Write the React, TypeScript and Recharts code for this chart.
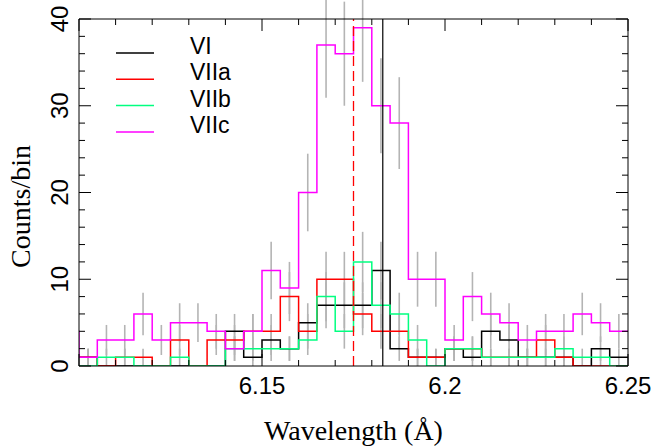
import React from "react";
import {
  ComposedChart,
  Line,
  Scatter,
  ErrorBar,
  XAxis,
  YAxis,
  ReferenceLine,
  Legend,
} from "recharts";

// bin edges (first one lies left of the plot and is clipped away)
const binEdges = [
  6.095, 6.1, 6.105, 6.11, 6.115, 6.12, 6.125, 6.13, 6.135, 6.14, 6.145, 6.15,
  6.155, 6.16, 6.165, 6.17, 6.175, 6.18, 6.185, 6.19, 6.195, 6.2, 6.205, 6.21,
  6.215, 6.22, 6.225, 6.23, 6.235, 6.24, 6.245, 6.25,
];

const seriesNames = ["VI", "VIIa", "VIIb", "VIIc"];
const seriesColors = ["#000000", "#ff0000", "#00ff80", "#ff00ff"];

const countsVI = [1, 0, 0, 0, 0, 0, 0, 0, 4, 1, 3, 2, 5, 7, 7, 7, 11, 2, 1, 1, 2, 1, 4, 3, 1, 1, 1, 0, 2, 1];
const countsVIIa = [1, 0, 1, 1, 0, 3, 0, 3, 3, 4, 4, 8, 4, 10, 10, 6, 4, 4, 1, 1, 2, 2, 1, 1, 1, 3, 1, 0, 0, 0];
const countsVIIb = [0, 1, 1, 0, 0, 1, 0, 0, 2, 2, 2, 2, 3, 8, 4, 12, 7, 6, 3, 0, 2, 2, 1, 1, 1, 1, 2, 1, 1, 0];
const countsVIIc = [1, 3, 3, 6, 3, 5, 5, 4, 2, 4, 11, 9, 20, 37, 36, 39, 30, 28, 10, 10, 3, 8, 6, 5, 3, 4, 4, 6, 5, 4];
// counts of the bin just outside the left edge
const countsBefore = [1, 1, 0, 4];

const lineSolid = 6.183;
const lineDashed = 6.175;

const xTicks = [6.1, 6.11, 6.12, 6.13, 6.14, 6.15, 6.16, 6.17, 6.18, 6.19, 6.2, 6.21, 6.22, 6.23, 6.24, 6.25];
const xLabels = [6.15, 6.2, 6.25];
const yTicks = [0, 2, 4, 6, 8, 10, 12, 14, 16, 18, 20, 22, 24, 26, 28, 30, 32, 34, 36, 38, 40];
const yLabels = [0, 10, 20, 30, 40];

const allCounts = [countsVI, countsVIIa, countsVIIb, countsVIIc];

const stepData = (before: number, counts: number[]) => [
  { x: binEdges[0], y: before },
  ...counts.map((c, i) => ({ x: binEdges[i + 1], y: c })),
  { x: binEdges[binEdges.length - 1], y: counts[counts.length - 1] },
];

const errData = (counts: number[]) =>
  counts
    .map((c, i) => ({ x: (binEdges[i + 1] + binEdges[i + 2]) / 2, y: c, e: Math.sqrt(c) }))
    .filter((d) => d.y > 0);

const sans = "'Liberation Sans', Arial, sans-serif";
const serif = "'Liberation Serif', 'Times New Roman', serif";

const near = (a: number, list: number[]) => list.some((b) => Math.abs(a - b) < 1e-6);
const isMajorX = (v: number) => Math.abs(v * 20 - Math.round(v * 20)) < 1e-6;

const BottomTick = (props: any) => {
  const { x, y, payload } = props;
  const v = payload.value;
  const major = isMajorX(v);
  return (
    <g>
      <line x1={x} x2={x} y1={y} y2={y - (major ? 12 : 6)} stroke="#000" />
      {near(v, xLabels) && (
        <text x={x} y={y + 28} textAnchor="middle" fontSize={24} fontFamily={sans} fill="#000">
          {parseFloat(v.toFixed(2)).toString()}
        </text>
      )}
    </g>
  );
};

const TopTick = (props: any) => {
  const { x, y, payload } = props;
  const major = isMajorX(payload.value);
  return <line x1={x} x2={x} y1={y} y2={y + (major ? 12 : 6)} stroke="#000" />;
};

const LeftTick = (props: any) => {
  const { x, y, payload } = props;
  const v = payload.value;
  const major = v % 10 === 0;
  const tx = x - 11;
  return (
    <g>
      <line x1={x} x2={x + (major ? 12 : 6)} y1={y} y2={y} stroke="#000" />
      {near(v, yLabels) && (
        <text
          x={tx}
          y={y}
          transform={`rotate(-90 ${tx} ${y})`}
          textAnchor="middle"
          fontSize={24}
          fontFamily={sans}
          fill="#000"
        >
          {v}
        </text>
      )}
    </g>
  );
};

const RightTick = (props: any) => {
  const { x, y, payload } = props;
  const major = payload.value % 10 === 0;
  return <line x1={x} x2={x - (major ? 12 : 6)} y1={y} y2={y} stroke="#000" />;
};

const YLabel = (props: any) => {
  const { viewBox } = props;
  const cx = viewBox.x + 30;
  const cy = viewBox.y + viewBox.height / 2 + 14;
  return (
    <text x={cx} y={cy} transform={`rotate(-90 ${cx} ${cy})`} textAnchor="middle" fontSize={28} fontFamily={serif} fill="#000">
      Counts/bin
    </text>
  );
};

const XLabel = (props: any) => {
  const { viewBox } = props;
  const cx = viewBox.x + viewBox.width / 2;
  return (
    <text x={cx} y={viewBox.y + 74} textAnchor="middle" fontSize={28} fontFamily={serif} fill="#000">
      Wavelength (Å)
    </text>
  );
};

const LegendBox = () => (
  <svg width={653} height={447} style={{ display: "block" }}>
    {seriesNames.map((name, k) => {
      const ly = 53 + 26.3 * k;
      return (
        <g key={name}>
          <line x1={116} x2={154} y1={ly} y2={ly} stroke={seriesColors[k]} strokeWidth={1.5} />
          <text x={190} y={ly + 1} fontSize={23} fontFamily={sans} fill="#000">
            {name}
          </text>
        </g>
      );
    })}
  </svg>
);

export default function App() {
  return (
    <div style={{ position: "absolute", left: 0, top: 0 }}>
      <ComposedChart width={653} height={447} margin={{ top: 0, right: 0, bottom: 0, left: 0 }}>
        <XAxis
          xAxisId="b"
          dataKey="x"
          type="number"
          domain={[6.1, 6.25]}
          allowDataOverflow
          ticks={xTicks}
          interval={0}
          height={81}
          tickSize={0}
          tickMargin={0}
          tickLine={false}
          axisLine={{ stroke: "#000" }}
          tick={<BottomTick />}
          label={XLabel}
        />
        <XAxis
          xAxisId="t"
          orientation="top"
          dataKey="x"
          type="number"
          domain={[6.1, 6.25]}
          allowDataOverflow
          ticks={xTicks}
          interval={0}
          height={19}
          tickSize={0}
          tickMargin={0}
          tickLine={false}
          axisLine={{ stroke: "#000" }}
          tick={<TopTick />}
        />
        <YAxis
          yAxisId="l"
          type="number"
          domain={[0, 40]}
          allowDataOverflow
          ticks={yTicks}
          interval={0}
          width={79}
          tickSize={0}
          tickMargin={0}
          tickLine={false}
          axisLine={{ stroke: "#000" }}
          tick={<LeftTick />}
          label={YLabel}
        />
        <YAxis
          yAxisId="r"
          orientation="right"
          type="number"
          domain={[0, 40]}
          allowDataOverflow
          ticks={yTicks}
          interval={0}
          width={25}
          tickSize={0}
          tickMargin={0}
          tickLine={false}
          axisLine={{ stroke: "#000" }}
          tick={<RightTick />}
        />
        <Legend
          layout="horizontal"
          verticalAlign="middle"
          align="center"
          wrapperStyle={{ left: 0, top: 0, width: 653, height: 447 }}
          content={() => <LegendBox />}
        />
        {allCounts.map((counts, k) => (
          <Scatter
            key={`err-${k}`}
            xAxisId="b"
            yAxisId="l"
            data={errData(counts)}
            dataKey="y"
            legendType="none"
            isAnimationActive={false}
            shape={() => <g />}
          >
            <ErrorBar dataKey="e" direction="y" width={0} stroke="#b4b4b4" strokeWidth={1.6} />
          </Scatter>
        ))}
        {allCounts.map((counts, k) => (
          <Line
            key={seriesNames[k]}
            xAxisId="b"
            yAxisId="l"
            name={seriesNames[k]}
            data={stepData(countsBefore[k], counts)}
            dataKey="y"
            type="stepAfter"
            stroke={seriesColors[k]}
            strokeWidth={1.5}
            dot={false}
            activeDot={false}
            isAnimationActive={false}
          />
        ))}
        <ReferenceLine xAxisId="b" yAxisId="l" x={lineDashed} stroke="#ff0000" strokeWidth={1.3} strokeDasharray="10 5" />
        <ReferenceLine xAxisId="b" yAxisId="l" x={lineSolid} stroke="#000" strokeWidth={1.2} />
      </ComposedChart>
    </div>
  );
}
